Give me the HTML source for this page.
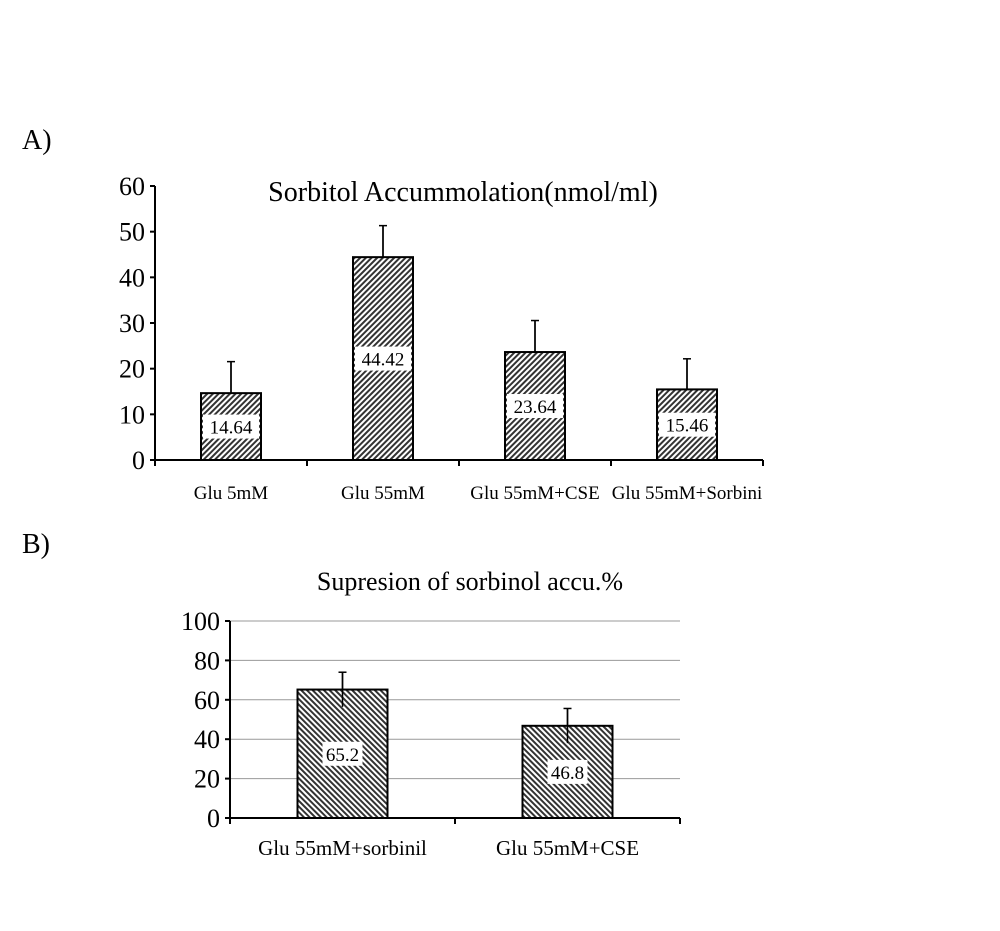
<!DOCTYPE html>
<html><head><meta charset="utf-8"><style>
body{margin:0;background:#fff;}
svg{display:block;font-family:"Liberation Serif",serif;}
</style></head><body>
<svg id="svg" width="1000" height="931" viewBox="0 0 1000 931">
<defs>
<pattern id="hA" patternUnits="userSpaceOnUse" width="4" height="4" patternTransform="rotate(45)"><rect width="4" height="4" fill="#fff"/><rect width="2" height="4" fill="#333"/></pattern>
<pattern id="hB" patternUnits="userSpaceOnUse" width="4" height="4" patternTransform="rotate(-45)"><rect width="4" height="4" fill="#fff"/><rect width="2" height="4" fill="#333"/></pattern>
</defs>
<text x="22" y="149" font-size="28">A)</text>
<text x="22" y="553" font-size="28">B)</text>
<text x="463" y="201" font-size="28" text-anchor="middle">Sorbitol Accummolation(nmol/ml)</text>
<text x="470" y="590" font-size="26" text-anchor="middle">Supresion of sorbinol accu.%</text>
<g id="ga"></g><g id="gb"></g>
</svg>
<script>
const catsA=["Glu 5mM","Glu 55mM","Glu 55mM+CSE","Glu 55mM+Sorbini"];
const valsA=[14.64,44.42,23.64,15.46];
const errA=[6.9,6.9,6.9,6.7];
const ticksA=[0,10,20,30,40,50,60];
const catsB=["Glu 55mM+sorbinil","Glu 55mM+CSE"];
const valsB=[65.2,46.8];
const errB=[8.8,8.8];
const ticksB=[0,20,40,60,80,100];
const NS="http://www.w3.org/2000/svg";
function mk(p,t,a){const e=document.createElementNS(NS,t);for(const k in a)e.setAttribute(k,a[k]);p.appendChild(e);return e;}
function chart(g,o){
 const y=v=>o.y0-(v-o.min)/(o.max-o.min)*(o.y0-o.y1);
 const bw=(o.x1-o.x0)/o.cats.length;
 const x=i=>o.x0+bw*(i+0.5);
 o.ticks.forEach(t=>{
  if(o.grid&&t>0){const l=mk(g,"line",{x1:o.x0,x2:o.x1,y1:y(t),y2:y(t),stroke:"#999","stroke-width":1});
   
   }
  const tk=mk(g,"line",{x1:o.x0-5,x2:o.x0,y1:y(t),y2:y(t),stroke:"#000","stroke-width":2});
  
  
  const tx=mk(g,"text",{x:o.x0-10,y:y(t)+9,"font-size":26,"text-anchor":"end"});tx.textContent=t;
  
  
 });
 o.cats.forEach((c,i)=>{
  const v=o.vals[i],bx=x(i)-o.barW/2;
  const eb=mk(g,"line",{x1:x(i),x2:x(i),y1:y(o.down?v-o.err[i]:v),y2:y(v+o.err[i]),stroke:"#000","stroke-width":1.5});
  
  
  const r=mk(g,"rect",{x:bx,y:y(v),width:o.barW,height:y(0)-y(v),fill:o.pat,stroke:"#000","stroke-width":2});
  
  
  const eb2=mk(g,"line",{x1:x(i),x2:x(i),y1:y(o.down?v-o.err[i]:v),y2:y(v+o.err[i]),stroke:"#000","stroke-width":1.5});
  
  
  const cap=mk(g,"line",{x1:x(i)-4,x2:x(i)+4,y1:y(v+o.err[i]),y2:y(v+o.err[i]),stroke:"#000","stroke-width":1.5});
  
  
  const ly=(y(0)+y(v))/2+o.lblOff;
  const lw=o.lblW;
  const lb=mk(g,"rect",{x:x(i)-lw/2,y:ly-12,width:lw,height:24,fill:"#fff"});
  
  
  const lt=mk(g,"text",{x:x(i),y:ly+7,"font-size":19,"text-anchor":"middle"});lt.textContent=v;
  
  
  const cl=mk(g,"text",{x:x(i),y:o.y0+o.catDy,"font-size":o.catFs,"text-anchor":"middle"});cl.textContent=c;
  
  
 });
 for(let i=0;i<=o.cats.length;i++){
  const t=mk(g,"line",{x1:o.x0+bw*i,x2:o.x0+bw*i,y1:o.y0,y2:o.y0+6,stroke:"#000","stroke-width":2});
  
  
 }
 const ya=mk(g,"line",{x1:o.x0,x2:o.x0,y1:o.y1,y2:o.y0,stroke:"#000","stroke-width":2});
 
 
 const xa=mk(g,"line",{x1:o.x0-5,x2:o.x1,y1:o.y0,y2:o.y0,stroke:"#000","stroke-width":2});
 
 
}
chart(document.getElementById("ga"),{cats:catsA,vals:valsA,err:errA,ticks:ticksA,min:0,max:60,x0:155,x1:763,y0:460,y1:186,barW:60,pat:"url(#hA)",down:false,grid:false,lblOff:0,lblW:56,catDy:39,catFs:19});
chart(document.getElementById("gb"),{cats:catsB,vals:valsB,err:errB,ticks:ticksB,min:0,max:100,x0:230,x1:680,y0:818,y1:621,barW:90,pat:"url(#hB)",down:true,grid:true,lblOff:0,lblW:40,catDy:37,catFs:21});
</script>
</body></html>
